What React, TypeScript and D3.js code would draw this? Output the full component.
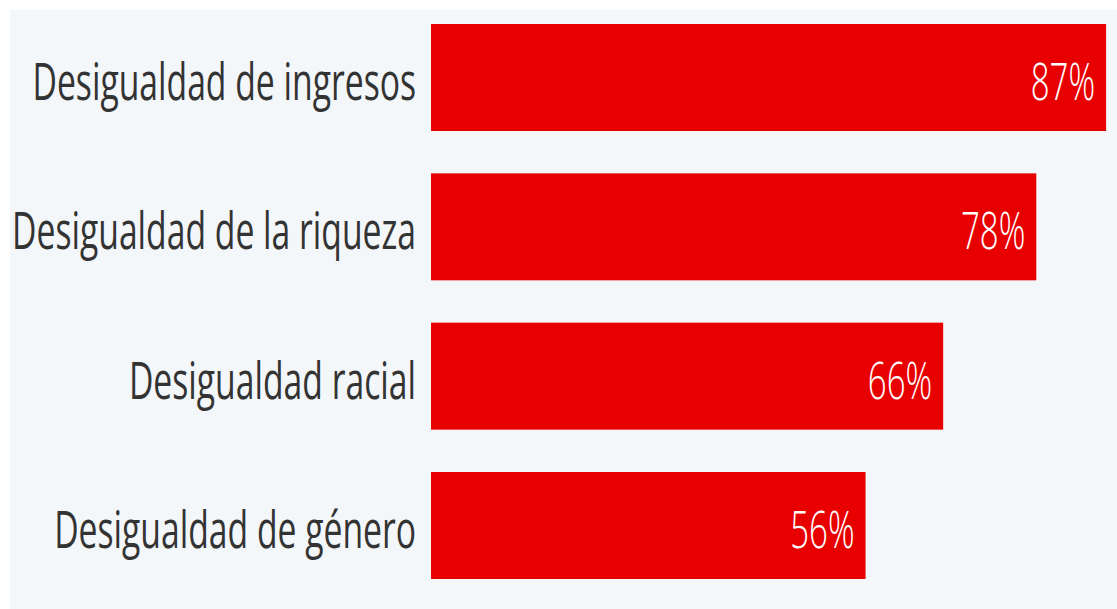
import React from "react";
import * as d3 from "d3";

const categories = [
  "Desigualdad de ingresos",
  "Desigualdad de la riqueza",
  "Desigualdad racial",
  "Desigualdad de género",
];
const values = [87, 78, 66, 56];

const W = 1117;
const H = 609;

export default function App() {
  const x = d3.scaleLinear().domain([0, 100]).range([431, 431 + 776]);
  const y = d3
    .scaleBand<string>()
    .domain(categories)
    .range([24, 579])
    .paddingInner(0.2835)
    .paddingOuter(0);
  const sxLabel = 0.648;
  const sxValue = 0.635;
  return (
    <svg
      width={W}
      height={H}
      style={{ position: "fixed", left: 0, top: 0, display: "block" }}
    >
      <rect x={0} y={0} width={W} height={H} fill="#ffffff" />
      <rect x={10} y={10} width={W - 10} height={H - 10} fill="#f3f7fa" />
      {categories.map((c, i) => {
        const by = y(c) as number;
        const bh = y.bandwidth();
        const cy = by + bh / 2;
        return (
          <g key={c}>
            <rect
              x={x(0)}
              y={by}
              width={x(values[i]) - x(0)}
              height={bh}
              fill="#e80000"
            />
            <g transform={`translate(416,${cy}) scale(${sxLabel},1)`}>
              <text
                x={0}
                y={0}
                dy="0.43em"
                textAnchor="end"
                fontFamily="'Open Sans', sans-serif"
                fontSize={52}
                fill="#333333"
              >
                {c}
              </text>
            </g>
            <g transform={`translate(${x(values[i]) - 11},${cy}) scale(${sxValue},1)`}>
              <text
                x={0}
                y={0}
                dy="0.43em"
                textAnchor="end"
                fontFamily="'Open Sans', sans-serif"
                fontWeight={300}
                fontSize={52}
                fill="#ffffff"
              >
                {values[i]}%
              </text>
            </g>
          </g>
        );
      })}
    </svg>
  );
}
